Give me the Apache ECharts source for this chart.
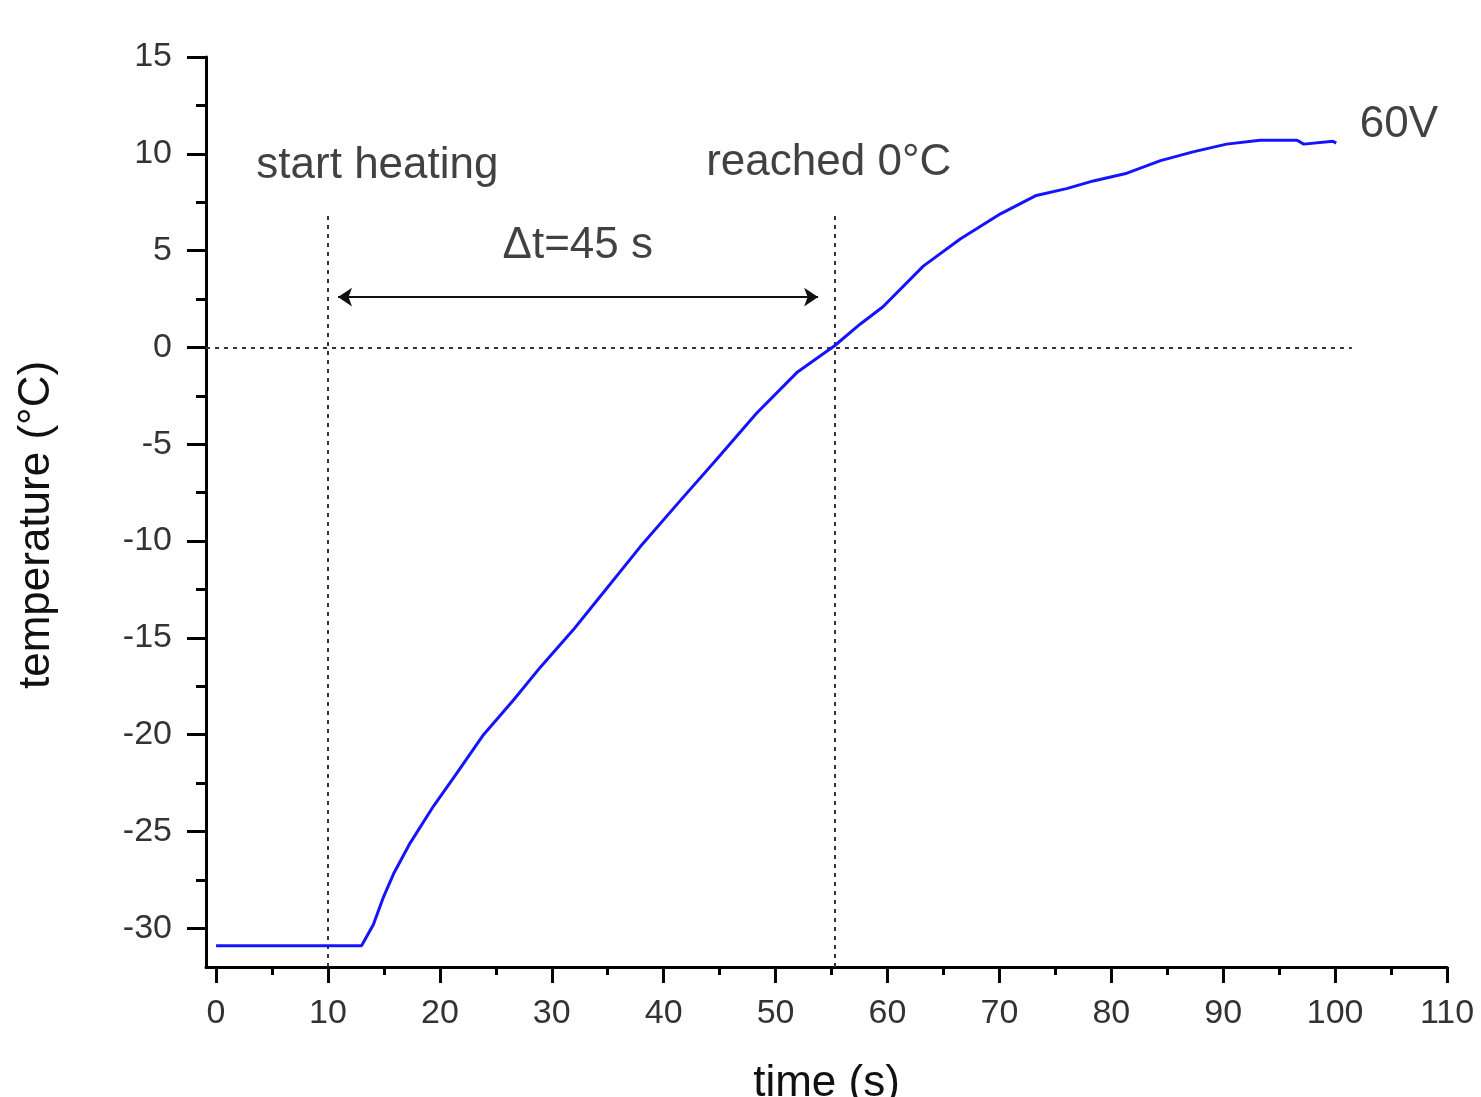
<!DOCTYPE html>
<html>
<head>
<meta charset="utf-8">
<script src="https://cdn.jsdelivr.net/npm/echarts@6/dist/echarts.min.js"></script>
<style>
  html, body { margin: 0; padding: 0; background: #fff; }
  #chart { width: 1481px; height: 1097px; }
</style>
</head>
<body>
<div id="chart"></div>
<script>
// ---- data ----
const timeS = [0, 13.0, 14.06, 14.95, 15.85, 17.34, 19.42, 21.5, 23.9, 26.6, 29.0, 31.9, 34.0, 37.9, 41.5, 44.7, 48.3, 51.9, 55.3, 57.55, 59.6, 63.2, 66.5, 70.1, 73.3, 76.0, 78.4, 81.4, 84.4, 87.3, 90.3, 93.3, 96.6, 97.2, 99.8, 100.1];
const tempC = [-30.9, -30.9, -29.8, -28.4, -27.2, -25.6, -23.7, -22.0, -20.0, -18.2, -16.5, -14.6, -13.1, -10.3, -7.9, -5.8, -3.4, -1.3, 0.1, 1.2, 2.1, 4.2, 5.6, 6.9, 7.85, 8.2, 8.6, 9.0, 9.65, 10.1, 10.5, 10.7, 10.7, 10.5, 10.65, 10.55];

const xMajorTicks = [0, 10, 20, 30, 40, 50, 60, 70, 80, 90, 100, 110];
const xMinorTicks = [5, 15, 25, 35, 45, 55, 65, 75, 85, 95, 105];
const yMajorTicks = [-30, -25, -20, -15, -10, -5, 0, 5, 10, 15];
const yMinorTicks = [-27.5, -22.5, -17.5, -12.5, -7.5, -2.5, 2.5, 7.5, 12.5];

const xRange = [-0.9, 110];
const yRange = [-32, 15];

// reference lines: [x1, y1, x2, y2]
const startHeatingLine = [10, -32, 10, 7.0];
const reachedZeroLine = [55.3, -32, 55.3, 6.8];
const zeroLine = [-0.9, 0, 101.5, 0];
const deltaArrow = [10.9, 2.6, 53.8, 2.6];

// annotations: [x, y, text] (left edge, vertical middle)
const annotations = [
  [3.6, 9.4, 'start heating'],
  [43.8, 9.55, 'reached 0°C'],
  [25.6, 5.27, '\u0394t=45 s'],
  [102.2, 11.47, '60V']
];

const FONT = '"Liberation Sans", Arial, Helvetica, sans-serif';

const chart = echarts.init(document.getElementById('chart'), null, { renderer: 'canvas' });

function seg(a) { return [{ coord: [a[0], a[1]] }, { coord: [a[2], a[3]] }]; }

const option = {
  animation: false,
  backgroundColor: '#fff',
  grid: { left: 206, right: 34, top: 57, bottom: 130, containLabel: false, outerBoundsMode: 'none' },
  xAxis: [
    {
      type: 'value', min: xRange[0], max: xRange[1],
      axisLine: { onZero: false, lineStyle: { color: '#000', width: 3 } },
      axisTick: { show: true, customValues: xMajorTicks, length: 16, lineStyle: { color: '#000', width: 3 } },
      axisLabel: { customValues: xMajorTicks, margin: 30, fontSize: 34, color: '#333', fontFamily: FONT },
      splitLine: { show: false },
      name: 'time (s)', nameLocation: 'middle', nameGap: 95,
      nameTextStyle: { fontSize: 44, color: '#111', fontFamily: FONT }
    },
    {
      type: 'value', min: xRange[0], max: xRange[1], position: 'bottom',
      axisLine: { show: false, onZero: false },
      axisTick: { show: true, customValues: xMinorTicks, length: 8, lineStyle: { color: '#000', width: 3 } },
      axisLabel: { show: false },
      splitLine: { show: false }
    }
  ],
  yAxis: [
    {
      type: 'value', min: yRange[0], max: yRange[1],
      axisLine: { show: true, onZero: false, lineStyle: { color: '#000', width: 3 } },
      axisTick: { show: true, customValues: yMajorTicks, length: 19, lineStyle: { color: '#000', width: 3 } },
      axisLabel: { customValues: yMajorTicks, margin: 34, fontSize: 34, color: '#333', fontFamily: FONT },
      splitLine: { show: false },
      name: 'temperature (°C)', nameLocation: 'middle', nameGap: 147, nameRotate: 90,
      nameTextStyle: { fontSize: 44, color: '#111', fontFamily: FONT, padding: [0, 26, 0, 0] }
    },
    {
      type: 'value', min: yRange[0], max: yRange[1], position: 'left',
      axisLine: { show: false, onZero: false },
      axisTick: { show: true, customValues: yMinorTicks, length: 10, lineStyle: { color: '#000', width: 3 } },
      axisLabel: { show: false },
      splitLine: { show: false }
    }
  ],
  series: [
    {
      name: '60V',
      type: 'line',
      data: timeS.map((t, i) => [t, tempC[i]]),
      showSymbol: false,
      symbol: 'none',
      lineStyle: { color: '#1414ff', width: 3 },
      z: 5,
      silent: true
    },
    {
      type: 'line',
      data: [],
      silent: true,
      markLine: {
        silent: true,
        symbol: ['none', 'none'],
        label: { show: false },
        lineStyle: { color: '#333', width: 2, type: [4, 5] },
        data: [seg(startHeatingLine), seg(reachedZeroLine), seg(zeroLine)]
      }
    },
    {
      type: 'line',
      data: [],
      silent: true,
      markLine: {
        silent: true,
        symbol: ['arrow', 'arrow'],
        symbolSize: [14, 14],
        label: { show: false },
        lineStyle: { color: '#111', width: 2, type: 'solid' },
        data: [seg(deltaArrow)]
      }
    },
    {
      type: 'scatter',
      silent: true,
      symbolSize: 0,
      data: annotations,
      label: {
        show: true,
        position: [0, 0],
        align: 'left',
        verticalAlign: 'middle',
        fontSize: 44,
        color: '#111',
        fontFamily: FONT,
        formatter: p => p.data[2]
      }
    }
  ]
};

chart.setOption(option);
</script>
</body>
</html>
